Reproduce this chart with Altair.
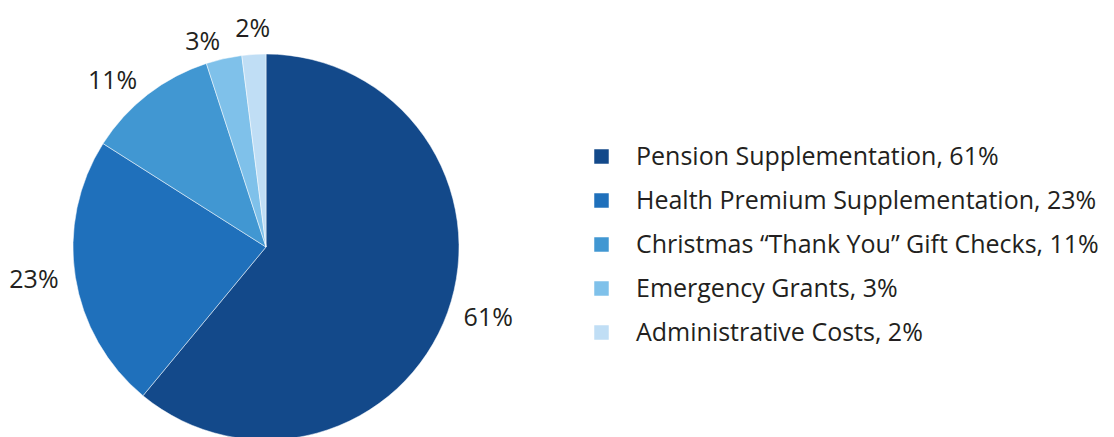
import altair as alt
import pandas as pd

categories = [
    "Pension Supplementation",
    "Health Premium Supplementation",
    "Christmas \u201cThank You\u201d Gift Checks",
    "Emergency Grants",
    "Administrative Costs",
]
values = [61, 23, 11, 3, 2]
colors = ["#13498a", "#1f70bb", "#4197d2", "#7fc1ea", "#c0def5"]

legend_labels = [f"{c}, {v}%" for c, v in zip(categories, values)]
df = pd.DataFrame({
    "legend": legend_labels,
    "value": values,
    "order": list(range(len(values))),
    "pct": [f"{v}%" for v in values],
})

FONT = "Open Sans"
TXT = "#231f20"
CX, CY = 258, 239

color = alt.Color(
    "legend:N",
    sort=legend_labels,
    scale=alt.Scale(domain=legend_labels, range=colors),
    legend=alt.Legend(
        title=None,
        orient="none",
        legendX=581,
        legendY=136,
        symbolType="square",
        symbolSize=210,
        symbolStrokeWidth=0,
        labelFontSize=25,
        labelFont=FONT,
        labelColor=TXT,
        labelOffset=22,
        rowPadding=18,
        padding=0,
        labelLimit=600,
    ),
)

pie = alt.Chart(df).mark_arc(radius=193, stroke="white", strokeWidth=0.5).encode(
    theta=alt.Theta("value:Q", stack=True),
    order=alt.Order("order:Q"),
    color=color,
    x=alt.value(CX),
    y=alt.value(CY),
)

# label layers: mid-angle of each slice, text box pushed outward by side
lab = (
    alt.Chart(df)
    .transform_joinaggregate(total="sum(value)")
    .transform_window(cum="sum(value)", sort=[alt.SortField("order")])
    .transform_calculate(mid="datum.cum - datum.value / 2")
    .transform_calculate(ang="2 * PI * datum.mid / datum.total")
    .transform_calculate(sx="sin(datum.ang)")
    .encode(
        theta=alt.Theta("mid:Q", stack=False),
        text="pct:N",
        x=alt.value(CX),
        y=alt.value(CY),
    )
)

common = dict(radius=210, fontSize=25, font=FONT, color=TXT)
right = lab.transform_filter("datum.sx > 0.1").mark_text(align="left", baseline="middle", **common)
left = lab.transform_filter("datum.sx < -0.1").mark_text(align="right", baseline="middle", **common)
top = lab.transform_filter("abs(datum.sx) <= 0.1").mark_text(align="center", baseline="alphabetic", **common)

chart = (
    alt.layer(pie, right, left, top)
    .properties(width=1098, height=429, padding=0, autosize="none")
    .configure_view(stroke=None)
)

chart.save("out.html", embed_options={"renderer": "svg", "actions": False})
